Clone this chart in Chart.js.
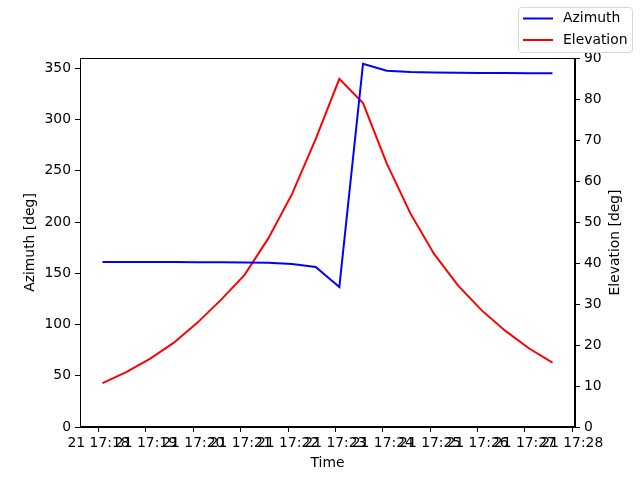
<!DOCTYPE html>
<html>
<head>
<meta charset="utf-8">
<script src="https://cdn.jsdelivr.net/npm/chart.js@4/dist/chart.umd.min.js"></script>
<style>
html,body{margin:0;padding:0;background:#fff;}
canvas{display:block;}
</style>
</head>
<body>
<canvas id="c" width="640" height="480"></canvas>
<script>
// ---- data ----
const times = ["17:18:05","17:18:35","17:19:05","17:19:35","17:20:05","17:20:35","17:21:05","17:21:35","17:22:05","17:22:35",
               "17:23:05","17:23:35","17:24:05","17:24:35","17:25:05","17:25:35","17:26:05","17:26:35","17:27:05","17:27:35"];
const azimuth = [161.0,161.0,160.9,160.9,160.8,160.7,160.5,160.2,159.0,156.1,
                 136.6,354.4,347.6,346.3,345.9,345.6,345.4,345.3,345.2,345.1];
const elevation = [10.7,13.4,16.6,20.5,25.4,31.0,37.1,46.0,56.8,70.2,
                   84.9,79.0,64.3,52.1,42.2,34.6,28.5,23.5,19.2,15.7];
const xTickMinutes = [18,19,20,21,22,23,24,25,26,27,28];
const xTickPrefix = "21 17:";
const azTicks = [0,50,100,150,200,250,300,350];
const elTicks = [0,10,20,30,40,50,60,70,80,90];
const rightTitle = "Elevation [deg]";

function toMin(t){const p=t.split(':').map(Number);return (p[0]-17)*60+p[1]+p[2]/60;}
const xs = times.map(toMin);
const azPts = xs.map((x,i)=>({x:x,y:azimuth[i]}));
const elPts = xs.map((x,i)=>({x:x,y:elevation[i]}));
const span = xs[xs.length-1]-xs[0];
const xMin = xs[0]-0.05*span, xMax = xs[xs.length-1]+0.05*span;

const FONT = "DejaVu Sans";
const FS = 13.9;

const framePlugin = {
  id:'frame',
  afterDraw(chart){
    const a = chart.chartArea, ctx = chart.ctx;
    ctx.save();
    ctx.strokeStyle='#000'; ctx.lineWidth=1;
    ctx.strokeRect(Math.round(a.left)+0.5, Math.round(a.top)+0.5, Math.round(a.right-a.left)-1, Math.round(a.bottom-a.top)-1);
    // right axis title, rotated like matplotlib (reads bottom to top)
    ctx.save();
    ctx.translate(615,(a.top+a.bottom)/2);
    ctx.rotate(-Math.PI/2);
    ctx.font = FS+'px "'+FONT+'"';
    ctx.fillStyle='#000'; ctx.textAlign='center'; ctx.textBaseline='middle';
    ctx.fillText(rightTitle,0,0);
    ctx.restore();
    // legend
    const x0=518.5, y0=7.5, w=114, h=45, r=3;
    ctx.fillStyle='rgba(255,255,255,0.8)';
    ctx.strokeStyle='#d6d6d6';
    ctx.beginPath();
    ctx.moveTo(x0+r,y0); ctx.lineTo(x0+w-r,y0); ctx.arcTo(x0+w,y0,x0+w,y0+r,r);
    ctx.lineTo(x0+w,y0+h-r); ctx.arcTo(x0+w,y0+h,x0+w-r,y0+h,r);
    ctx.lineTo(x0+r,y0+h); ctx.arcTo(x0,y0+h,x0,y0+h-r,r);
    ctx.lineTo(x0,y0+r); ctx.arcTo(x0,y0,x0+r,y0,r); ctx.closePath();
    ctx.fill(); ctx.stroke();
    const items = chart.data.datasets;
    const rows=[18.5,40];
    ctx.font = FS+'px "'+FONT+'"';
    ctx.textBaseline='middle'; ctx.textAlign='left';
    items.forEach((ds,i)=>{
      ctx.strokeStyle=ds.borderColor; ctx.lineWidth=2;
      ctx.beginPath(); ctx.moveTo(523,rows[i]); ctx.lineTo(553,rows[i]); ctx.stroke();
      ctx.fillStyle='#000';
      ctx.fillText(ds.label,563,rows[i]);
    });
    ctx.restore();
  }
};

new Chart(document.getElementById('c'),{
  type:'line',
  data:{datasets:[
    {label:'Azimuth',data:azPts,borderColor:'#0000ff',backgroundColor:'#0000ff',borderWidth:2,pointRadius:0,tension:0,yAxisID:'yL'},
    {label:'Elevation',data:elPts,borderColor:'#ff0000',backgroundColor:'#ff0000',borderWidth:2,pointRadius:0,tension:0,yAxisID:'yR'}
  ]},
  options:{
    responsive:false, animation:false, devicePixelRatio:1,
    layout:{padding:{top:58,left:0,right:0,bottom:0}},
    plugins:{legend:{display:false},tooltip:{enabled:false}},
    scales:{
      x:{type:'linear',min:xMin,max:xMax,
        afterBuildTicks(s){s.ticks=xTickMinutes.map(v=>({value:v}));},
        afterFit(s){s.height=53;},
        ticks:{autoSkip:false,maxRotation:0,minRotation:0,color:'#000',padding:3,font:{family:FONT,size:FS},
          callback:(v)=>xTickPrefix+v},
        grid:{drawOnChartArea:false,tickLength:5,color:'#000'},
        border:{color:'#000'},
        title:{display:true,text:'Time',color:'#000',font:{family:FONT,size:FS},padding:{top:0,bottom:8}}
      },
      yL:{type:'linear',position:'left',min:0,max:360,
        afterBuildTicks(s){s.ticks=azTicks.map(v=>({value:v}));},
        afterFit(s){s.width=80;},
        ticks:{color:'#000',padding:4,font:{family:FONT,size:FS}},
        grid:{drawOnChartArea:false,tickLength:5,color:'#000'},
        border:{color:'#000'},
        title:{display:true,text:'Azimuth [deg]',color:'#000',font:{family:FONT,size:FS},padding:{top:22,bottom:0}}
      },
      yR:{type:'linear',position:'right',min:0,max:90,
        afterBuildTicks(s){s.ticks=elTicks.map(v=>({value:v}));},
        afterFit(s){s.width=65;},
        ticks:{color:'#000',padding:4,font:{family:FONT,size:FS}},
        grid:{drawOnChartArea:false,tickLength:5,color:'#000'},
        border:{color:'#000'},
        title:{display:false}
      }
    }
  },
  plugins:[framePlugin]
});
</script>
</body>
</html>
